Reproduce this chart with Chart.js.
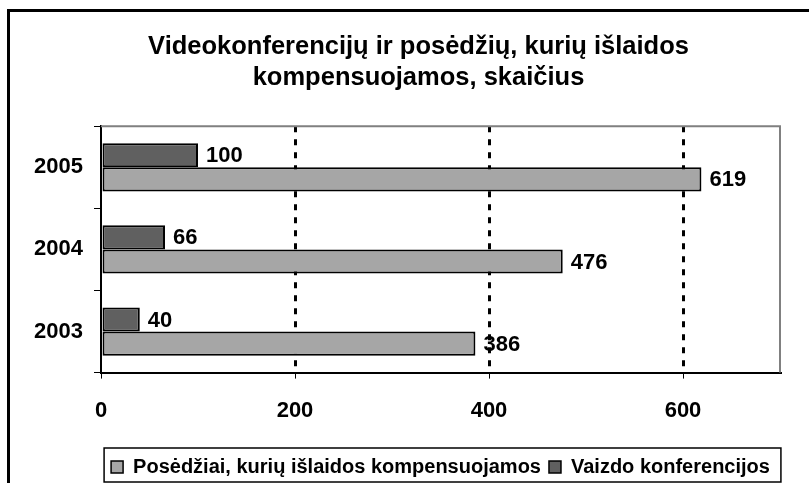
<!DOCTYPE html>
<html>
<head>
<meta charset="utf-8">
<script src="https://cdn.jsdelivr.net/npm/chart.js@4"></script>
<style>
  body { margin: 0; background: #fff; }
</style>
</head>
<body>
<canvas id="myChart" width="809" height="483"></canvas>
<script>
const titleLines = ['Videokonferencijų ir posėdžių, kurių išlaidos', 'kompensuojamos, skaičius'];
const years = ['2005', '2004', '2003'];
const videoLabel = 'Vaizdo konferencijos';
const meetingLabel = 'Posėdžiai, kurių išlaidos kompensuojamos';
const videoConferences = [100, 66, 40];
const meetings = [619, 476, 386];
const xTicks = [0, 200, 400, 600];
const xMax = 700;

const FONT = '"Liberation Sans", Arial, sans-serif';

// outer frame, plot border and legend box
const framePlugin = {
    id: 'frame',
    beforeDraw(chart) {
        const ctx = chart.ctx;
        ctx.save();
        ctx.fillStyle = '#fff';
        ctx.fillRect(0, 0, chart.width, chart.height);
        ctx.fillStyle = '#000';
        ctx.fillRect(7, 9, chart.width - 7, 3);
        ctx.fillRect(7, 9, 3, chart.height - 9);
        ctx.restore();
    },
    beforeDatasetsDraw(chart) {
        const a = chart.chartArea;
        const ctx = chart.ctx;
        ctx.save();
        ctx.strokeStyle = '#808080';
        ctx.lineWidth = 2;
        ctx.beginPath();
        ctx.moveTo(a.left, a.top);
        ctx.lineTo(a.right, a.top);
        ctx.lineTo(a.right, a.bottom);
        ctx.stroke();
        ctx.restore();
    },
    afterDraw(chart) {
        const boxes = chart.legend.legendHitBoxes;
        if (!boxes || !boxes.length) return;
        const left = Math.min(...boxes.map(b => b.left)) - 7;
        const right = Math.max(...boxes.map(b => b.left + b.width)) + 11;
        const top = Math.min(...boxes.map(b => b.top)) - 9;
        const ctx = chart.ctx;
        ctx.save();
        ctx.strokeStyle = '#000';
        ctx.lineWidth = 1.5;
        ctx.strokeRect(left, top, right - left, chart.height - 1 - top);
        ctx.restore();
    }
};

const valueLabels = {
    id: 'valueLabels',
    afterDatasetsDraw(chart) {
        const ctx = chart.ctx;
        ctx.save();
        ctx.font = 'bold 22px ' + FONT;
        ctx.fillStyle = '#000';
        ctx.textBaseline = 'middle';
        chart.data.datasets.forEach((ds, i) => {
            chart.getDatasetMeta(i).data.forEach((bar, j) => {
                ctx.fillText(String(ds.data[j]), bar.x + 8, bar.y + 1);
            });
        });
        ctx.restore();
    }
};

const ctx = document.getElementById('myChart').getContext('2d');
new Chart(ctx, {
    type: 'bar',
    data: {
        labels: years,
        datasets: [
            {
                label: videoLabel,
                data: videoConferences,
                backgroundColor: '#606060',
                borderColor: '#000',
                borderWidth: 2,
                borderSkipped: false
            },
            {
                label: meetingLabel,
                data: meetings,
                backgroundColor: '#a6a6a6',
                borderColor: '#000',
                borderWidth: 2,
                borderSkipped: false
            }
        ]
    },
    options: {
        indexAxis: 'y',
        responsive: false,
        animation: false,
        devicePixelRatio: 1,
        categoryPercentage: 0.588,
        barPercentage: 1,
        layout: {
            padding: { left: 28, top: 21, right: 0, bottom: -4 }
        },
        scales: {
            x: {
                min: 0,
                max: xMax,
                afterBuildTicks(scale) {
                    scale.ticks = xTicks.map(v => ({ value: v }));
                },
                afterFit(scale) { scale.height += 6; },
                grid: {
                    color: c => (c.tick && c.tick.value > 0) ? '#000' : 'rgba(0,0,0,0)',
                    lineWidth: 3,
                    tickColor: '#000',
                    tickWidth: 1,
                    tickLength: 6,
                    tickBorderDash: []
                },
                border: { display: true, color: '#000', width: 2, dash: [6, 7] },
                ticks: {
                    color: '#000',
                    padding: 19,
                    font: { family: FONT, size: 22, weight: 'bold' }
                }
            },
            y: {
                afterFit(scale) { scale.width = 73; },
                grid: {
                    drawOnChartArea: false,
                    color: '#000',
                    tickLength: 7,
                    tickWidth: 1
                },
                border: { display: true, color: '#000', width: 2 },
                ticks: {
                    color: '#000',
                    padding: 11,
                    font: { family: FONT, size: 22, weight: 'bold' }
                }
            },
            yRight: {
                type: 'linear',
                position: 'right',
                display: true,
                afterFit(scale) { scale.width = 29; },
                grid: { display: false },
                border: { display: false },
                ticks: { display: false }
            }
        },
        plugins: {
            title: {
                display: true,
                text: titleLines,
                color: '#000',
                font: { family: FONT, size: 25.5, weight: 'bold', lineHeight: 1.22 },
                padding: { top: 10, bottom: 33 }
            },
            legend: {
                position: 'bottom',
                fullSize: false,
                reverse: true,
                labels: {
                    color: '#000',
                    boxWidth: 12,
                    boxHeight: 12,
                    padding: 8,
                    font: { family: FONT, size: 20, weight: 'bold' },
                    generateLabels(chart) {
                        return chart.data.datasets.map((ds, i) => ({
                            text: ds.label,
                            fillStyle: ds.backgroundColor,
                            strokeStyle: '#000',
                            lineWidth: 1.5,
                            fontColor: '#000',
                            datasetIndex: i
                        }));
                    }
                }
            },
            tooltip: { enabled: false }
        }
    },
    plugins: [framePlugin, valueLabels]
});
</script>
</body>
</html>
